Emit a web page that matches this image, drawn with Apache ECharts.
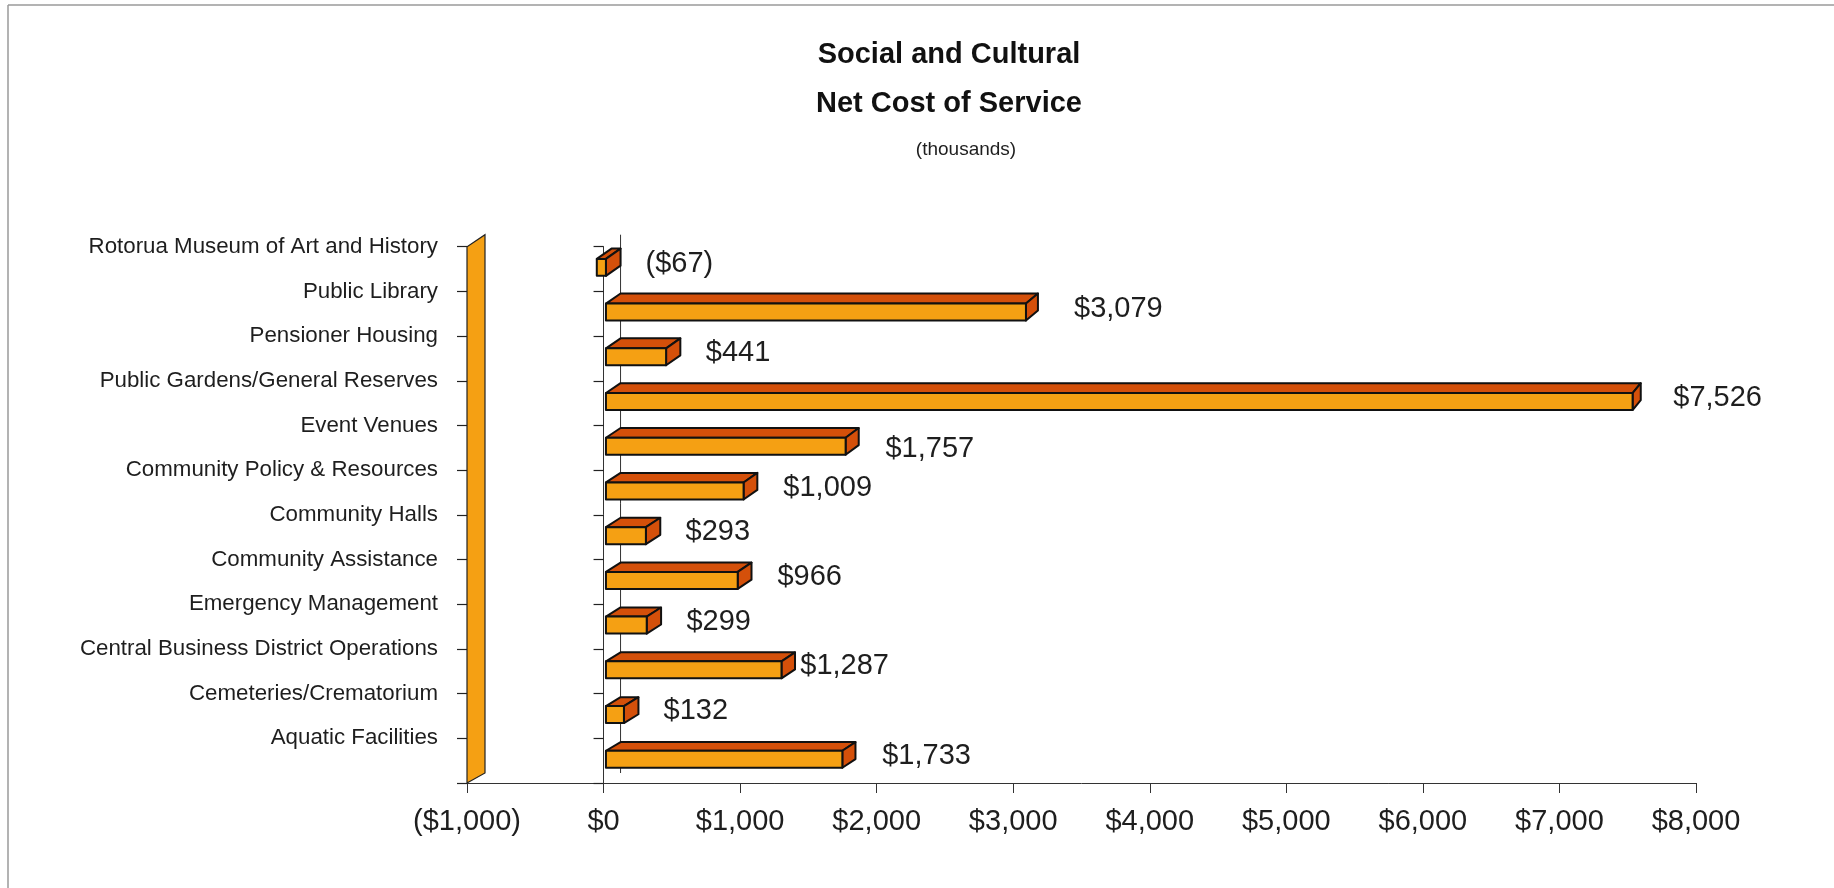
<!DOCTYPE html>
<html>
<head>
<meta charset="utf-8">
<script src="https://cdn.jsdelivr.net/npm/echarts@6/dist/echarts.min.js"></script>
<style>
  html, body { margin: 0; padding: 0; background: #ffffff; }
  #chart { width: 1834px; height: 888px; }
</style>
</head>
<body>
<div id="chart"></div>
<script>
// Net cost of service per activity, in thousands of dollars (listed top to bottom)
const categories = [
  'Rotorua Museum of Art and History',
  'Public Library',
  'Pensioner Housing',
  'Public Gardens/General Reserves',
  'Event Venues',
  'Community Policy & Resources',
  'Community Halls',
  'Community Assistance',
  'Emergency Management',
  'Central Business District Operations',
  'Cemeteries/Crematorium',
  'Aquatic Facilities'
];
const netCost = [-67, 3079, 441, 7526, 1757, 1009, 293, 966, 299, 1287, 132, 1733];

const titleLines = ['Social and Cultural', 'Net Cost of Service'];
const unitNote = '(thousands)';

// value axis range and tick step
const axisMin = -1000;
const axisMax = 8000;
const axisStep = 1000;

const FONT = '"Liberation Sans", Arial, Helvetica, sans-serif';
const TEXT = '#1e1e1e';
const LINE = '#333333';
const FRONT = '#F5A013';
const SHADE = '#D4500A';

// Small hand placements for value labels that would otherwise crowd (pixels)
const labelNudge = {
  'Public Library': [8, 0],
  'Event Venues': [0, 6],
  'Central Business District Operations': [-21, 0]
};

function money(v) {
  const s = '$' + Math.abs(v).toLocaleString('en-US');
  return v < 0 ? '(' + s + ')' : s;
}

// Oblique depth offset of the pseudo-3D box; it shrinks slightly to the right
function depthAt(cs, x, y) {
  return [18 - 9 * (x - cs.x) / cs.width, -12 + 2 * (y - cs.y) / cs.height];
}
function project(cs, x, y, t) {
  const d = depthAt(cs, x, y);
  return [x + d[0] * t, y + d[1] * t];
}

// Side wall at the axis minimum plus the back reference line at zero
function renderWall(params, api) {
  const cs = params.coordSys;
  const top = cs.y, bot = cs.y + cs.height;
  const xw = api.coord([axisMin, 0])[0];
  const x0 = api.coord([0, 0])[0];
  const p = project(cs, x0, top, 1), q = project(cs, x0, bot, 1);
  return {
    type: 'group',
    children: [
      {
        type: 'polygon',
        shape: { points: [[xw, top], [xw, bot], project(cs, xw, bot, 1), project(cs, xw, top, 1)] },
        style: { fill: FRONT, stroke: '#222', lineWidth: 1.2 }
      },
      {
        type: 'line',
        shape: { x1: p[0], y1: p[1], x2: q[0], y2: q[1] },
        style: { stroke: LINE, lineWidth: 1 }
      }
    ]
  };
}

// Box-shaped bar: front face, top face, end cap, and its value label
const FRONT_DEPTH = 0.14;
function renderBar(params, api) {
  const cs = params.coordSys;
  const v = api.value(0);
  const idx = api.value(1);
  const a = api.coord([0, idx]);
  const b = api.coord([v, idx]);
  const band = api.size([0, 1])[1];
  const h = band * 0.38;
  const xl = Math.min(a[0], b[0]);
  const xr = Math.max(a[0], b[0]);
  const yt = a[1] - h / 2;
  const yb = a[1] + h / 2;
  const P = (x, y, t) => project(cs, x, y, t);
  const f = FRONT_DEPTH;
  const edge = { stroke: '#111', lineWidth: 2, lineJoin: 'round' };
  const nudge = labelNudge[categories[idx]] || [0, 0];
  return {
    type: 'group',
    children: [
      {
        type: 'polygon',
        shape: { points: [P(xl, yt, f), P(xr, yt, f), P(xr, yt, 1), P(xl, yt, 1)] },
        style: Object.assign({ fill: SHADE }, edge)
      },
      {
        type: 'polygon',
        shape: { points: [P(xr, yt, f), P(xr, yt, 1), P(xr, yb, 1), P(xr, yb, f)] },
        style: Object.assign({ fill: SHADE }, edge)
      },
      {
        type: 'polygon',
        shape: { points: [P(xl, yt, f), P(xr, yt, f), P(xr, yb, f), P(xl, yb, f)] },
        style: Object.assign({ fill: FRONT }, edge)
      },
      {
        type: 'text',
        style: {
          text: money(v),
          x: xr + 42 + nudge[0],
          y: a[1] - 5 + nudge[1],
          font: '29px ' + FONT,
          fill: TEXT,
          align: 'left',
          verticalAlign: 'middle'
        }
      }
    ]
  };
}

const barData = categories.map((c, i) => [netCost[i], i]);

const chart = echarts.init(document.getElementById('chart'), null, { renderer: 'canvas' });

chart.setOption({
  animation: false,
  backgroundColor: '#ffffff',
  grid: { left: 467, right: 138, top: 246.7, bottom: 105, containLabel: false, outerBoundsMode: 'none' },
  xAxis: {
    type: 'value',
    min: axisMin,
    max: axisMax,
    interval: axisStep,
    axisLine: { show: true, onZero: false, lineStyle: { color: LINE, width: 1 } },
    axisTick: { show: true, inside: false, length: 10, lineStyle: { color: LINE, width: 1 } },
    splitLine: { show: false },
    axisLabel: { formatter: money, fontSize: 29, fontFamily: FONT, color: TEXT, margin: 24 }
  },
  yAxis: [
    {
      // front category axis standing on the zero value
      type: 'category',
      data: categories,
      inverse: true,
      position: 'left',
      axisLine: { show: true, onZero: true, lineStyle: { color: LINE, width: 1 } },
      axisTick: { show: true, inside: false, length: 10, lineStyle: { color: '#222', width: 1.2 } },
      axisLabel: { show: false },
      splitLine: { show: false }
    },
    {
      // label axis along the side wall; names sit on the band boundaries
      type: 'category',
      data: categories.concat(['']),
      inverse: true,
      boundaryGap: false,
      position: 'left',
      axisLine: { show: false, onZero: false },
      axisTick: { show: true, inside: false, length: 10, interval: 0, lineStyle: { color: '#222', width: 1.2 } },
      axisLabel: { show: true, interval: 0, fontSize: 22.3, fontFamily: FONT, color: TEXT, margin: 29 },
      splitLine: { show: false }
    }
  ],
  series: [
    {
      type: 'custom',
      name: 'wall',
      xAxisIndex: 0,
      yAxisIndex: 0,
      data: [[axisMin, 0]],
      encode: { x: 0, y: 1 },
      renderItem: renderWall,
      z: 1,
      silent: true
    },
    {
      type: 'custom',
      name: 'Net cost of service',
      xAxisIndex: 0,
      yAxisIndex: 0,
      data: barData,
      encode: { x: 0, y: 1 },
      renderItem: renderBar,
      z: 3
    }
  ],
  graphic: [
    { type: 'line', shape: { x1: 8, y1: 5, x2: 8, y2: 888 }, style: { stroke: '#9a9a9a', lineWidth: 1.5 } },
    { type: 'line', shape: { x1: 8, y1: 5, x2: 1834, y2: 5 }, style: { stroke: '#9a9a9a', lineWidth: 1.5 } },
    { type: 'text', x: 949, y: 55, style: { text: titleLines[0], font: 'bold 29px ' + FONT, fill: '#111', align: 'center', verticalAlign: 'middle' } },
    { type: 'text', x: 949, y: 104, style: { text: titleLines[1], font: 'bold 29px ' + FONT, fill: '#111', align: 'center', verticalAlign: 'middle' } },
    { type: 'text', x: 966, y: 150, style: { text: unitNote, font: '19px ' + FONT, fill: TEXT, align: 'center', verticalAlign: 'middle' } }
  ]
});
</script>
</body>
</html>
